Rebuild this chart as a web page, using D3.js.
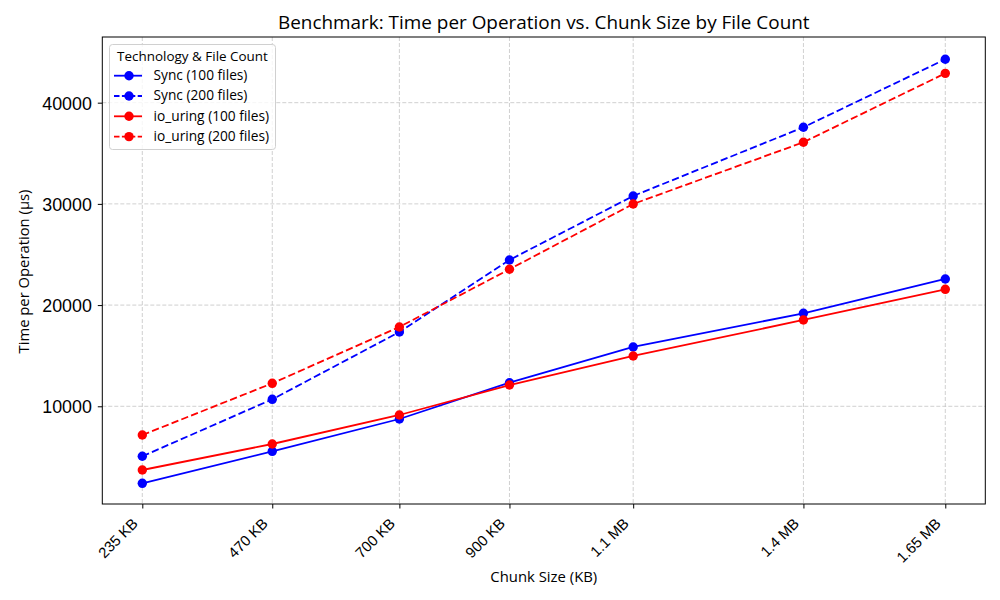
<!DOCTYPE html>
<html><head><meta charset="utf-8">
<script src="https://cdn.jsdelivr.net/npm/d3@7"></script>
<style>body{margin:0;background:#fff}svg{font-family:"Open Sans","Noto Sans",sans-serif}</style>
</head><body><svg id="c" width="1000" height="600"></svg>
<script>
const chunkSizesKB = [235, 464, 688, 882, 1100, 1400, 1650];
const tickLabels = ["235 KB", "470 KB", "700 KB", "900 KB", "1.1 MB", "1.4 MB", "1.65 MB"];
const sync100 = [2390, 5550, 8745, 12330, 15860, 19190, 22580];
const sync200 = [5060, 10690, 17340, 24460, 30780, 37570, 44290];
const io100 = [3705, 6275, 9140, 12100, 14970, 18530, 21560];
const io200 = [7164, 12270, 17840, 23540, 29990, 36090, 42900];
const seriesNames = ["Sync (100 files)", "Sync (200 files)", "io_uring (100 files)", "io_uring (200 files)"];
const yTicks = [10000, 20000, 30000, 40000];

const series = [
  {name: seriesNames[0], values: sync100, color: "blue", dash: null},
  {name: seriesNames[1], values: sync200, color: "blue", dash: "7.3,3.2"},
  {name: seriesNames[2], values: io100, color: "red", dash: null},
  {name: seriesNames[3], values: io200, color: "red", dash: "7.3,3.2"}
];

// choose a font size so that a text node spans the target width
function fitSize(sampleText, target) {
  const t = svg.append("text").attr("font-size", 10).text(sampleText);
  const w = t.node().getComputedTextLength();
  t.remove();
  return 10 * target / w;
}

const svg = d3.select("#c");
const L = 102.3, R = 985.3, T = 37, B = 504;
const x = d3.scaleLinear().domain([164.5, 1720.5]).range([L, R]);
const y = d3.scaleLinear().domain([346, 46490]).range([B, T]);

const fsTitle = fitSize("Benchmark: Time per Operation vs. Chunk Size by File Count", 532);
const fsYTick = fitSize("40000", 51);
const fsXTick = fitSize("235 KB", 48);
const fsXLab = fitSize("Chunk Size (KB)", 107);
const fsYLab = fitSize("Time per Operation (\u03bcs)", 164);
const fsLeg = fitSize("Sync (100 files)", 94);
const fsLegT = fitSize("Technology & File Count", 151);

// grid
const g = svg.append("g");
g.selectAll(".gx").data(chunkSizesKB).join("line")
  .attr("x1", d => x(d)).attr("x2", d => x(d)).attr("y1", T).attr("y2", B)
  .attr("stroke", "#c4c4c4").attr("stroke-width", 0.8).attr("stroke-dasharray", "4,2");
g.selectAll(".gy").data(yTicks).join("line")
  .attr("x1", L).attr("x2", R).attr("y1", d => y(d)).attr("y2", d => y(d))
  .attr("stroke", "#c4c4c4").attr("stroke-width", 0.8).attr("stroke-dasharray", "4,2");

// axes
const xAxis = svg.append("g").attr("transform", `translate(0,${B})`)
  .call(d3.axisBottom(x).tickValues(chunkSizesKB).tickFormat((d, i) => tickLabels[i]).tickSize(4.5).tickSizeOuter(0));
xAxis.select(".domain").remove();
xAxis.selectAll("text").attr("font-size", fsXTick).attr("fill", "#000")
  .attr("text-anchor", "end").attr("x", 0).attr("y", 0).attr("dx", 0).attr("dy", 0)
  .attr("transform", "translate(-4,20.5) rotate(-45)");
xAxis.selectAll("line").attr("stroke", "#000");

const yAxis = svg.append("g").attr("transform", `translate(${L},0)`)
  .call(d3.axisLeft(y).tickValues(yTicks).tickFormat(d3.format("d")).tickSize(4.5).tickSizeOuter(0));
yAxis.select(".domain").remove();
yAxis.selectAll("text").attr("font-size", fsYTick).attr("fill", "#000").attr("x", -10.5).attr("dy", "0.36em");
yAxis.selectAll("line").attr("stroke", "#000");

// lines
const line = d3.line().x((d, i) => x(chunkSizesKB[i])).y(d => y(d));
series.forEach(s => {
  svg.append("path").datum(s.values).attr("d", line).attr("fill", "none")
    .attr("stroke", s.color).attr("stroke-width", 1.8)
    .attr("stroke-dasharray", s.dash);
  svg.selectAll(null).data(s.values).join("circle")
    .attr("cx", (d, i) => x(chunkSizesKB[i])).attr("cy", d => y(d)).attr("r", 4.7)
    .attr("fill", s.color);
});

// frame
svg.append("rect").attr("x", L).attr("y", T).attr("width", R - L).attr("height", B - T)
  .attr("fill", "none").attr("stroke", "#000").attr("stroke-width", 1);

// titles
svg.append("text").attr("x", (L + R) / 2).attr("y", 29).attr("text-anchor", "middle")
  .attr("font-size", fsTitle).text("Benchmark: Time per Operation vs. Chunk Size by File Count");
svg.append("text").attr("x", (L + R) / 2).attr("y", 581.5).attr("text-anchor", "middle")
  .attr("font-size", fsXLab).text("Chunk Size (KB)");
svg.append("text").attr("transform", `translate(28.5,${(190 + 353) / 2}) rotate(-90)`).attr("text-anchor", "middle")
  .attr("font-size", fsYLab).text("Time per Operation (\u03bcs)");

// legend
const lg = svg.append("g");
lg.append("rect").attr("x", 109.5).attr("y", 44.5).attr("width", 166).attr("height", 105)
  .attr("rx", 3).attr("fill", "#fff").attr("fill-opacity", 0.8).attr("stroke", "#d0d0d0");
lg.append("text").attr("x", 192.5).attr("y", 60.5).attr("text-anchor", "middle")
  .attr("font-size", fsLegT).text("Technology & File Count");
series.forEach((s, i) => {
  const yy = 75.7 + i * 20.3;
  lg.append("line").attr("x1", 114).attr("x2", 142).attr("y1", yy).attr("y2", yy)
    .attr("stroke", s.color).attr("stroke-width", 1.8).attr("stroke-dasharray", s.dash ? "5.5,2.4" : null);
  lg.append("circle").attr("cx", 129).attr("cy", yy).attr("r", 4.7).attr("fill", s.color);
  lg.append("text").attr("x", 153.5).attr("y", yy + 4.3).attr("font-size", fsLeg).text(s.name);
});
</script></body></html>
